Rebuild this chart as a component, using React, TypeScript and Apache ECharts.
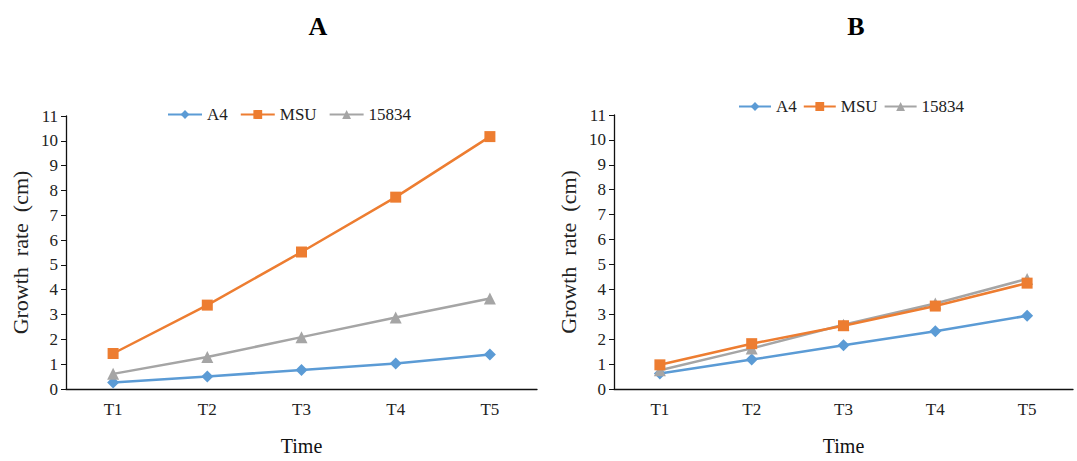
import React, { useEffect, useRef } from "react";
import * as echarts from "echarts";

const categories = ["T1", "T2", "T3", "T4", "T5"];
const seriesNames = ["A4", "MSU", "15834"];

const a_A4 = [0.26, 0.5, 0.77, 1.03, 1.39];
const a_MSU = [1.43, 3.38, 5.52, 7.73, 10.17];
const a_15834 = [0.61, 1.29, 2.09, 2.88, 3.65];

const b_A4 = [0.62, 1.18, 1.76, 2.32, 2.94];
const b_MSU = [0.97, 1.82, 2.54, 3.33, 4.25];
const b_15834 = [0.75, 1.63, 2.58, 3.43, 4.42];

const panelTitles = ["A", "B"];
const yTicks = { min: 0, max: 11, interval: 1 };

const colors = ["#5B9BD5", "#ED7D31", "#A5A5A5"];
const symbols = ["diamond", "rect", "triangle"];
const symbolSizes = [12, 11, 12];

const FONT = "Liberation Serif";

export default function App() {
  const ref = useRef<HTMLDivElement>(null);

  useEffect(() => {
    document.body.style.margin = "0";
    if (!ref.current) return;
    const chart = echarts.init(ref.current, null, { renderer: "svg" });

    const panels = [
      [a_A4, a_MSU, a_15834],
      [b_A4, b_MSU, b_15834],
    ];

    const grids = [
      { left: 66, right: 540, top: 116, bottom: 67 },
      { left: 614, right: 4, top: 115, bottom: 66 },
    ];

    const xAxis = grids.map((_, i) => ({
      type: "category",
      gridIndex: i,
      data: categories,
      boundaryGap: true,
      name: "Time",
      nameLocation: "middle",
      nameGap: 47,
      nameTextStyle: { fontFamily: FONT, fontSize: 20, color: "#111" },
      axisLine: { show: true, lineStyle: { color: "#111", width: 1.3 } },
      axisTick: { show: false },
      axisLabel: { fontFamily: FONT, fontSize: 17, color: "#222", margin: 12 },
      splitLine: { show: false },
    }));

    const yAxis = grids.map((_, i) => ({
      type: "value",
      gridIndex: i,
      min: yTicks.min,
      max: yTicks.max,
      interval: yTicks.interval,
      name: "Growth  rate  (cm)",
      nameLocation: "middle",
      nameGap: 35,
      nameRotate: 90,
      nameTextStyle: { fontFamily: FONT, fontSize: 22, color: "#222" },
      axisLine: { show: true, lineStyle: { color: "#111", width: 1.3 } },
      axisTick: { show: true, inside: false, length: 5, lineStyle: { color: "#111" } },
      axisLabel: { fontFamily: FONT, fontSize: 17, color: "#222", margin: 8 },
      splitLine: { show: false },
    }));

    const series: any[] = [];
    panels.forEach((data, p) => {
      data.forEach((vals, s) => {
        series.push({
          type: "line",
          name: seriesNames[s],
          xAxisIndex: p,
          yAxisIndex: p,
          data: vals,
          color: colors[s],
          symbol: symbols[s],
          symbolSize: symbolSizes[s],
          lineStyle: { width: 2.5, color: colors[s] },
          itemStyle: { color: colors[s] },
          z: s === 1 ? 3 : 2,
        });
      });
    });

    chart.setOption({
      animation: false,
      backgroundColor: "#fff",
      textStyle: { fontFamily: FONT },
      title: [
        {
          text: panelTitles[0],
          left: 313,
          top: 8,
          textAlign: "center",
          textStyle: { fontFamily: FONT, fontSize: 26, fontWeight: "bold", color: "#000" },
        },
        {
          text: panelTitles[1],
          left: 851,
          top: 8,
          textAlign: "center",
          textStyle: { fontFamily: FONT, fontSize: 26, fontWeight: "bold", color: "#000" },
        },
      ],
      legend: [
        {
          data: seriesNames,
          left: 162,
          top: 101,
          itemWidth: 34,
          itemHeight: 11,
          itemGap: 12,
          textStyle: { fontFamily: FONT, fontSize: 17, color: "#222" },
          selectedMode: false,
        },
        {
          data: seriesNames,
          left: 733,
          top: 93,
          itemWidth: 32,
          itemHeight: 11,
          itemGap: 6,
          textStyle: { fontFamily: FONT, fontSize: 17, color: "#222" },
          selectedMode: false,
        },
      ],
      grid: grids,
      xAxis,
      yAxis,
      series,
    });

    return () => chart.dispose();
  }, []);

  return <div ref={ref} style={{ width: 1077, height: 461 }} />;
}
